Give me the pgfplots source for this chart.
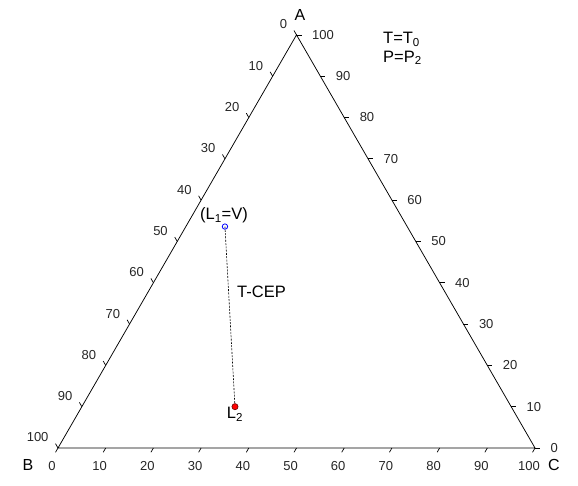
\documentclass[border=0pt]{standalone}
\usepackage{pgfplots}
\pgfplotsset{compat=1.18}
\usepackage{pgfplotstable}
\usepackage{fontspec}
\setmainfont{Liberation Sans}

\newcommand\tickfont{\fontsize{13}{15}\selectfont}
\newcommand\textfontbig{\fontsize{16.5}{19}\selectfont}
\newcommand\vertexfont{\fontsize{16}{18}\selectfont}

% map a composition (A, B, C) in percent onto the plane
\pgfplotsset{
  /pgfplots/table/tern/.style={
    /pgfplots/table/x expr=\thisrow{C}+0.5*\thisrow{A},
    /pgfplots/table/y expr=0.8660254*\thisrow{A}},
}

% compositions in percent (A, B, C)
\pgfplotstableread{
A B C
53.6 38.2 8.2
}\Lone
\pgfplotstableread{
A B C
10.0 57.9 32.1
}\Ltwo
\pgfplotstableread{
A B C
53.6 38.2 8.2
10.0 57.9 32.1
}\tieline
% triangle corners: B, C, A, back to B
\pgfplotstableread{
A B C
0 100 0
0 0 100
100 0 0
0 100 0
}\outline
% tick positions along each side
\pgfplotstableread{
k h
0 0
10 0
20 0
30 0
40 0
50 0
60 0
70 0
80 0
90 0
100 0
}\ticks

\begin{document}
\begin{tikzpicture}
\begin{axis}[
  scale only axis,
  width=578pt, height=485pt,
  xmin=-12.16, xmax=109.01,
  ymin=-7.76, ymax=93.92,
  hide axis,
  clip=false,
]
% keep the full plotting area as the picture's extent
\path (rel axis cs:0,0) rectangle (rel axis cs:1,1);
% triangle
\addplot[black, line width=0.75pt, no markers] table[tern] {\outline};
% ticks pointing outward
\addplot[black, line width=0.7pt, no markers, quiver={u=-0.524, v=-0.908}]
  table[x expr=\thisrow{k}, y expr=\thisrow{h}] {\ticks};
\addplot[black, line width=0.7pt, no markers, quiver={u=-0.524, v=0.908}]
  table[x expr=0.5*(100-\thisrow{k}), y expr=0.8660254*(100-\thisrow{k})] {\ticks};
\addplot[black, line width=0.7pt, no markers, quiver={u=1.05, v=0}]
  table[x expr=100-0.5*\thisrow{k}, y expr=0.8660254*\thisrow{k}] {\ticks};
% tick labels
\pgfplotsinvokeforeach{0,10,...,100}{
  \node[font=\tickfont, text=black!85, xshift=-6pt] at (axis cs:#1,-3.88) {#1};
  \node[font=\tickfont, text=black!85, anchor=east, xshift=-6pt, yshift=10.5pt]
    at (axis cs:{0.5*(100-#1)},{0.8660254*(100-#1)}) {#1};
  \node[font=\tickfont, text=black!85, anchor=west, xshift=12pt]
    at (axis cs:{100-0.5*#1},{0.8660254*#1}) {#1};
}
% vertex names
\node[font=\vertexfont] at (axis cs:50.73,90.78) {A};
\node[font=\vertexfont] at (axis cs:-6.29,-3.56) {B};
\node[font=\vertexfont] at (axis cs:103.98,-3.56) {C};
% conditions
\node[font=\textfontbig, anchor=base west, inner sep=0pt] at (axis cs:68.13,84.70) {T=T\textsubscript{0}};
\node[font=\textfontbig, anchor=base west, inner sep=0pt] at (axis cs:68.13,80.92) {P=P\textsubscript{2}};
% tie line between the critical end point phases
\addplot[black, line width=0.6pt, dash pattern=on 2pt off 1.3pt, no markers] table[tern] {\tieline};
\addplot[only marks, mark=o, mark size=2.7pt, blue, line width=0.8pt] table[tern] {\Lone};
\addplot[only marks, mark=*, mark size=3.1pt, fill=red, draw=red!40!black, line width=0.6pt] table[tern] {\Ltwo};
\node[font=\textfontbig, anchor=base, inner sep=0pt] at (axis cs:34.8,47.8) {(L\textsubscript{1}=V)};
\node[font=\textfontbig, anchor=base, inner sep=0pt] at (axis cs:37.1,6.08) {L\textsubscript{2}};
\node[font=\textfontbig, anchor=base west, inner sep=0pt] at (axis cs:37.53,31.45) {T-CEP};
\end{axis}
\end{tikzpicture}
\end{document}
